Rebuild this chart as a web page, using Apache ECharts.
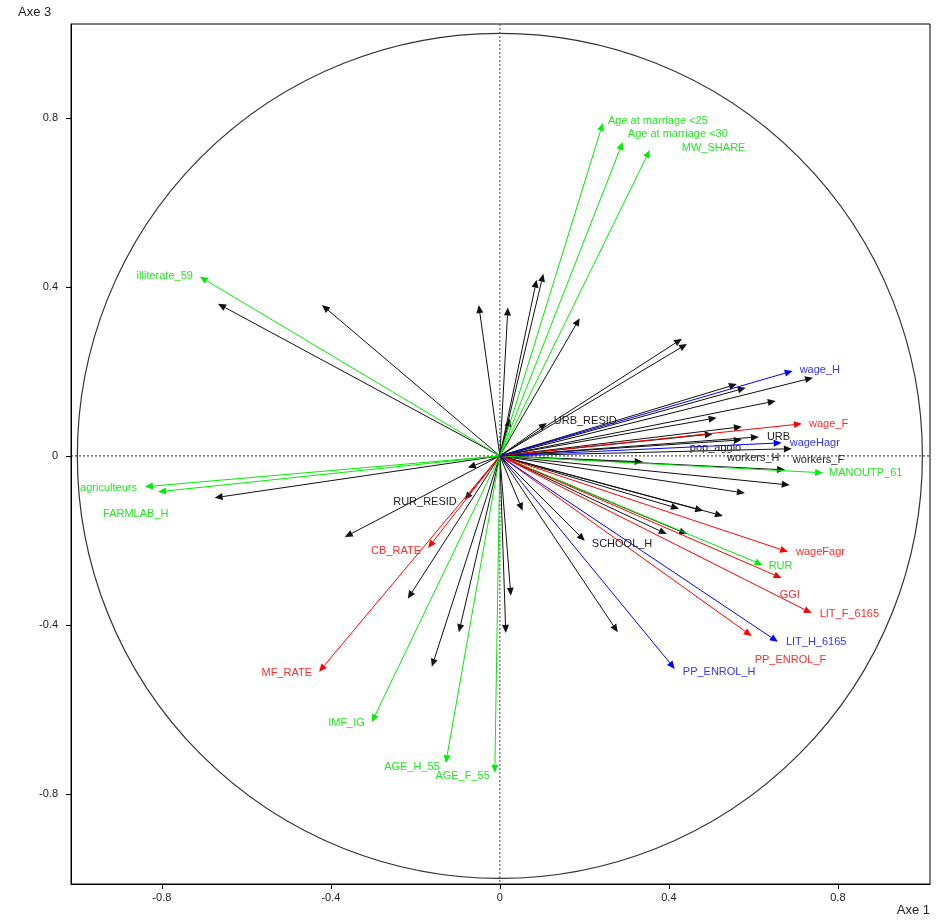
<!DOCTYPE html>
<html><head><meta charset="utf-8">
<script src="https://cdn.jsdelivr.net/npm/echarts@6/dist/echarts.min.js"></script>
<style>html,body{margin:0;padding:0;background:#fff}#c{width:946px;height:921px}</style>
</head><body><div id="c"></div>
<script>
// ---- data ----
const tickValues = [-0.8, -0.4, 0, 0.4, 0.8];

const greenNames = ['Age at marriage <25','Age at marriage <30','MW_SHARE','illiterate_59','agriculteurs','FARMLAB_H','MANOUTP_61','RUR','IMF_IG','AGE_H_55','AGE_F_55'];
const greenX = [0.244, 0.291, 0.355, -0.710, -0.840, -0.809, 0.765, 0.622, -0.303, -0.128, -0.012];
const greenY = [0.788, 0.743, 0.724, 0.424, -0.073, -0.085, -0.040, -0.258, -0.630, -0.727, -0.750];

const redNames = ['wage_F','wageFagr','GGI','LIT_F_6165','PP_ENROL_F','CB_RATE','MF_RATE'];
const redX = [0.715, 0.682, 0.667, 0.738, 0.596, -0.170, -0.428];
const redY = [0.076, -0.227, -0.289, -0.372, -0.426, -0.218, -0.511];

const blueNames = ['wage_H','wageHagr','LIT_H_6165','PP_ENROL_H'];
const blueX = [0.693, 0.667, 0.658, 0.414];
const blueY = [0.201, 0.031, -0.440, -0.504];

const blackNames = ['URB_RESID','URB','pop_agglo','workers_H','workers_F','RUR_RESID','SCHOOL_H',
  '','','','','','','','','','','','','','','','','','','','','','','','','','','','','','','','','',''];
const blackX = [0.111, 0.613, 0.504, 0.573, 0.691, -0.083, 0.201,
  -0.667, -0.421, -0.050, 0.019, 0.087, 0.103, 0.189, 0.024, 0.431, 0.443, 0.561, 0.582, 0.741, 0.653,
  0.513, 0.573, 0.338, 0.675, 0.686, 0.580, 0.424, 0.481, 0.528, 0.395, 0.443, 0.054, 0.026, 0.014,
  0.279, -0.076, -0.675, -0.367, -0.218, -0.097, -0.161];
const blackY = [0.078, 0.045, 0.052, 0.038, 0.017, -0.104, -0.201,
  0.360, 0.357, 0.357, 0.351, 0.417, 0.431, 0.326, 0.088, 0.277, 0.265, 0.170, 0.161, 0.185, 0.130,
  0.090, 0.069, -0.014, -0.033, -0.069, -0.088, -0.125, -0.130, -0.142, -0.185, -0.185, -0.130, -0.331, -0.419,
  -0.417, -0.028, -0.099, -0.192, -0.338, -0.417, -0.499];

// ---- label placement (style: pixel offset from arrow tip, alignment) ----
const labelPlacement = {
  'Age at marriage <25': [5, -2, 'left'],
  'Age at marriage <30': [5, -8, 'left'],
  'MW_SHARE': [32, -2, 'left'],
  'illiterate_59': [-7, -1, 'right'],
  'agriculteurs': [-8, 1, 'right'],
  'FARMLAB_H': [-55, 22, 'left'],
  'MANOUTP_61': [6, 0, 'left'],
  'RUR': [6, 1, 'left'],
  'IMF_IG': [-7, 1, 'right'],
  'AGE_H_55': [-6, 4, 'right'],
  'AGE_F_55': [-5, 3, 'right'],
  'wage_F': [7, 0, 'left'],
  'wageFagr': [8, 0, 'left'],
  'GGI': [-2, 17, 'left'],
  'LIT_F_6165': [8, 1, 'left'],
  'PP_ENROL_F': [3, 24, 'left'],
  'CB_RATE': [-7, 3, 'right'],
  'MF_RATE': [-7, 1, 'right'],
  'wage_H': [7, -1, 'left'],
  'wageHagr': [8, 0, 'left'],
  'LIT_H_6165': [8, 0, 'left'],
  'PP_ENROL_H': [8, 3, 'left'],
  'URB_RESID': [7, -2, 'left'],
  'URB': [8, 0, 'left'],
  'pop_agglo': [-23, 14, 'left'],
  'workers_H': [-15, 18, 'left'],
  'workers_F': [1, 11, 'left'],
  'RUR_RESID': [-8, 2, 'right'],
  'SCHOOL_H': [7, 3, 'left']
};

const FONT = '11px "Liberation Sans", Arial, sans-serif';

function arrowSeries(names, xs, ys, lineColor, textColor) {
  const data = xs.map((x, i) => [x, ys[i], i]);
  return {
    type: 'custom', coordinateSystem: 'cartesian2d', silent: true, animation: false, clip: false,
    data: data,
    renderItem: function (params, api) {
      const i = api.value(2);
      const o = api.coord([0, 0]);
      const p = api.coord([api.value(0), api.value(1)]);
      const dx = p[0] - o[0], dy = p[1] - o[1];
      const len = Math.hypot(dx, dy) || 1;
      const ux = dx / len, uy = dy / len;
      const L = 8, W = 3.5;
      const bx = p[0] - ux * L, by = p[1] - uy * L;
      const children = [
        { type: 'line', shape: { x1: o[0], y1: o[1], x2: bx, y2: by }, style: { stroke: lineColor, lineWidth: 1 } },
        { type: 'polygon', shape: { points: [[p[0], p[1]], [bx - uy * W, by + ux * W], [bx + uy * W, by - ux * W]] }, style: { fill: lineColor } }
      ];
      const name = names[i];
      if (name && labelPlacement[name]) {
        const pl = labelPlacement[name];
        children.push({ type: 'text', x: p[0] + pl[0], y: p[1] + pl[1], z2: 10,
          style: { text: name, fill: textColor, font: FONT, align: pl[2], verticalAlign: 'middle' } });
      }
      return { type: 'group', children: children };
    }
  };
}

const frameSeries = {
  type: 'custom', coordinateSystem: 'cartesian2d', silent: true, animation: false, clip: false,
  data: [[0, 0]],
  renderItem: function (params, api) {
    const c = api.coord([0, 0]);
    const r = api.size([1, 1]);
    const cs = params.coordSys;
    return { type: 'group', children: [
      { type: 'circle', shape: { cx: c[0], cy: c[1], r: r[0] }, style: { fill: 'none', stroke: '#333', lineWidth: 1.2 } },
      { type: 'line', shape: { x1: cs.x, y1: c[1], x2: cs.x + cs.width, y2: c[1] }, style: { stroke: '#222', lineWidth: 1, lineDash: [2, 2] } },
      { type: 'line', shape: { x1: c[0], y1: cs.y, x2: c[0], y2: cs.y + cs.height }, style: { stroke: '#444', lineWidth: 1, lineDash: [2, 2] } }
    ]};
  }
};

const chart = echarts.init(document.getElementById('c'), null, { renderer: 'canvas' });
const axisLabelStyle = { color: '#222', fontSize: 11, fontFamily: '"Liberation Sans", Arial, sans-serif' };
chart.setOption({
  backgroundColor: '#fff',
  animation: false,
  grid: { left: 71, right: 16, top: 24, bottom: 37, show: true, borderColor: '#000', borderWidth: 1, containLabel: false },
  xAxis: {
    type: 'value', min: -1.015, max: 1.018,
    axisLine: { show: true, onZero: false, lineStyle: { color: '#000', width: 1 } },
    axisTick: { show: true, length: 5, lineStyle: { color: '#000' }, customValues: tickValues },
    axisLabel: Object.assign({ margin: 8, customValues: tickValues, formatter: v => String(v) }, axisLabelStyle),
    splitLine: { show: false }
  },
  yAxis: {
    type: 'value', min: -1.013, max: 1.022,
    axisLine: { show: true, onZero: false, lineStyle: { color: '#000', width: 1 } },
    axisTick: { show: true, length: 5, lineStyle: { color: '#000' }, customValues: tickValues },
    axisLabel: Object.assign({ margin: 13, customValues: tickValues, formatter: v => String(v) }, axisLabelStyle),
    splitLine: { show: false }
  },
  graphic: [
    { type: 'text', left: 18, top: 6, style: { text: 'Axe 3', fill: '#222', font: '13px "Liberation Sans", Arial, sans-serif' } },
    { type: 'text', right: 16, top: 904, style: { text: 'Axe 1', fill: '#222', font: '13px "Liberation Sans", Arial, sans-serif' } }
  ],
  series: [
    frameSeries,
    arrowSeries(blackNames, blackX, blackY, '#111', '#222'),
    arrowSeries(greenNames, greenX, greenY, '#00ee00', '#22e822'),
    arrowSeries(redNames, redX, redY, '#ff0000', '#ff2a2a'),
    arrowSeries(blueNames, blueX, blueY, '#0000ff', '#3333ff')
  ]
});
</script>
</body></html>
